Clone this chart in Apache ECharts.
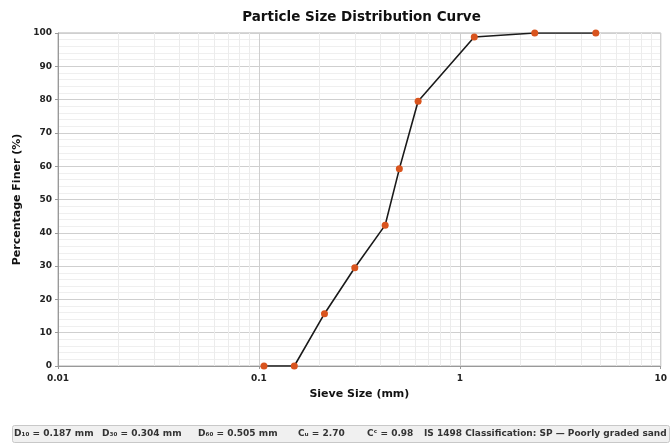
<!DOCTYPE html>
<html><head><meta charset="utf-8">
<script src="https://cdn.jsdelivr.net/npm/echarts@6/dist/echarts.min.js"></script>
<style>html,body{margin:0;padding:0;background:#fff}#c{width:670px;height:444px}</style>
</head><body><div id="c"></div>
<script>
const sieveSize = [0.106, 0.15, 0.212, 0.3, 0.425, 0.5, 0.62, 1.18, 2.36, 4.75];
const percentFiner = [0, 0, 15.7, 29.5, 42.3, 59.2, 79.5, 98.8, 100, 100];
const decades = [0.01, 0.1, 1];
const minorMultipliers = [2, 3, 4, 5, 6, 7, 8, 9];
const infoItems = ['D\u2081\u2080 = 0.187 mm', 'D\u2083\u2080 = 0.304 mm', 'D\u2086\u2080 = 0.505 mm', 'C\u1D64 = 2.70', 'C\u1D9C = 0.98', 'IS 1498 Classification: SP \u2014 Poorly graded sand'];
const infoX = [14, 102, 198, 298, 367, 424];

const minorX = [];
decades.forEach(d => minorMultipliers.forEach(m => minorX.push({xAxis: +(d * m).toPrecision(6)})));

const FONT = 'DejaVu Sans';
const chart = echarts.init(document.getElementById('c'), null, {renderer: 'canvas'});
chart.setOption({
  animation: false,
  textStyle: {fontFamily: FONT},
  grid: {left: 58, right: 5, top: 33, bottom: 78, show: true, borderColor: '#b0b0b0', borderWidth: 1},
  xAxis: {
    type: 'log', logBase: 10, min: 0.01, max: 10,
    name: 'Sieve Size (mm)', nameLocation: 'middle', nameGap: 23,
    nameTextStyle: {fontFamily: FONT, fontSize: 11, fontWeight: 'bold', color: '#111'},
    axisLine: {lineStyle: {color: '#999'}},
    axisTick: {show: true, length: 3, lineStyle: {color: '#999'}},
    axisLabel: {fontFamily: FONT, fontSize: 9, fontWeight: 'bold', color: '#222', margin: 8,
      formatter: v => String(+v.toPrecision(3))},
    splitLine: {show: true, lineStyle: {color: '#cfcfcf', width: 1}}
  },
  yAxis: {
    type: 'value', min: 0, max: 100, interval: 10,
    name: 'Percentage Finer (%)', nameLocation: 'middle', nameGap: 34,
    nameTextStyle: {fontFamily: FONT, fontSize: 11, fontWeight: 'bold', color: '#111'},
    axisLine: {show: true, lineStyle: {color: '#999'}},
    axisTick: {show: true, length: 3, lineStyle: {color: '#999'}},
    axisLabel: {fontFamily: FONT, fontSize: 9, fontWeight: 'bold', color: '#222', margin: 6},
    splitLine: {show: true, lineStyle: {color: '#cfcfcf', width: 1}},
    minorTick: {show: false, splitNumber: 5},
    minorSplitLine: {show: true, lineStyle: {color: '#efefef', width: 1}}
  },
  series: [
    {
      type: 'line', data: [], silent: true,
      markLine: {silent: true, symbol: ['none', 'none'], label: {show: false},
        lineStyle: {color: '#ececec', width: 1, type: 'solid'}, data: minorX}
    },
    {
      type: 'line',
      data: sieveSize.map((x, i) => [x, percentFiner[i]]),
      lineStyle: {color: '#1a1a1a', width: 1.6},
      symbol: 'circle', symbolSize: 7,
      itemStyle: {color: '#d9541e', borderWidth: 0},
      z: 5
    }
  ],
  graphic: [
    {type: 'text', x: 361.5, y: 17.5,
      style: {text: 'Particle Size Distribution Curve', font: 'bold 13.5px "DejaVu Sans"', fill: '#111',
        textAlign: 'center', textVerticalAlign: 'middle'}},
    {type: 'rect', shape: {x: 12.5, y: 425.5, width: 657, height: 17, r: 2},
      style: {fill: '#f0f0f0', stroke: '#c8c8c8', lineWidth: 1}},
    ...infoItems.map((t, i) => ({type: 'text', x: infoX[i], y: 434,
      style: {text: t, font: 'bold 9px "DejaVu Sans"', fill: '#333', textVerticalAlign: 'middle'}}))
  ]
});
</script></body></html>
